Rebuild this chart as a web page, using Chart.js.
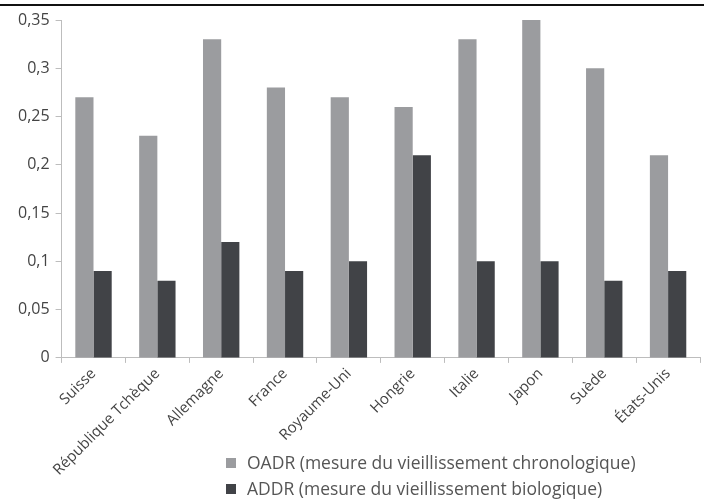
<!DOCTYPE html>
<html lang="fr">
<head>
    <meta charset="UTF-8">
    <title>OADR et ADDR</title>
    <script src="https://cdn.jsdelivr.net/npm/chart.js"></script>
    <style>
        body { margin: 0; background: #fff; }
        .wrap { position: relative; width: 704px; height: 500px; }
        .topline { position: absolute; left: 0; top: 4px; width: 704px; height: 2px; background: #111; }
    </style>
</head>
<body>
    <div class="wrap">
        <div class="topline"></div>
        <canvas id="ratioChart"></canvas>
    </div>

    <script>
        // données
        const pays = ['Suisse', 'République Tchèque', 'Allemagne', 'France', 'Royaume-Uni',
                      'Hongrie', 'Italie', 'Japon', 'Suède', 'États-Unis'];
        const oadr = [0.27, 0.23, 0.33, 0.28, 0.27, 0.26, 0.33, 0.35, 0.30, 0.21];
        const addr = [0.09, 0.08, 0.12, 0.09, 0.10, 0.21, 0.10, 0.10, 0.08, 0.09];
        const serieLabels = ['OADR (mesure du vieillissement chronologique)',
                             'ADDR (mesure du vieillissement biologique)'];
        const yTicks = [0, 0.05, 0.1, 0.15, 0.2, 0.25, 0.3, 0.35];

        const police = '"Open Sans", sans-serif';

        // légende verticale dessinée sous le graphique
        const legendePlugin = {
            id: 'legendeBas',
            afterDraw(chart) {
                const ctx = chart.ctx;
                ctx.save();
                ctx.font = '17.5px ' + police;
                ctx.textBaseline = 'middle';
                chart.data.datasets.forEach((ds, i) => {
                    const y = 463 + i * 26;
                    ctx.fillStyle = ds.backgroundColor;
                    ctx.fillRect(226, y - 5, 10, 10);
                    ctx.fillStyle = '#555';
                    ctx.fillText(ds.label, 247, y + 1);
                });
                ctx.restore();
            }
        };

        new Chart(document.getElementById('ratioChart'), {
            type: 'bar',
            data: {
                labels: pays,
                datasets: [
                    { label: serieLabels[0], data: oadr, backgroundColor: '#9b9c9f',
                      categoryPercentage: 0.57, barPercentage: 1.0 },
                    { label: serieLabels[1], data: addr, backgroundColor: '#414347',
                      categoryPercentage: 0.57, barPercentage: 1.0 }
                ]
            },
            options: {
                responsive: true,
                maintainAspectRatio: false,
                animation: false,
                layout: { padding: { top: 20, right: 4, left: 12, bottom: 19 } },
                scales: {
                    x: {
                        grid: { drawOnChartArea: false, color: '#bdbdbd', tickLength: 5 },
                        border: { color: '#bdbdbd' },
                        ticks: {
                            autoSkip: false, minRotation: 45, maxRotation: 45,
                            color: '#444', font: { family: police, size: 15 }, padding: 2
                        }
                    },
                    y: {
                        min: 0, max: 0.35,
                        afterBuildTicks: axis => { axis.ticks = yTicks.map(v => ({ value: v })); },
                        grid: { drawOnChartArea: false, color: '#bdbdbd', tickLength: 6 },
                        border: { color: '#bdbdbd' },
                        ticks: {
                            color: '#444', font: { family: police, size: 16 }, padding: 6,
                            callback: v => String(Math.round(v * 100) / 100).replace('.', ',')
                        }
                    }
                },
                plugins: {
                    legend: { display: false },
                    tooltip: { enabled: false }
                }
            },
            plugins: [legendePlugin]
        });
    </script>
</body>
</html>
